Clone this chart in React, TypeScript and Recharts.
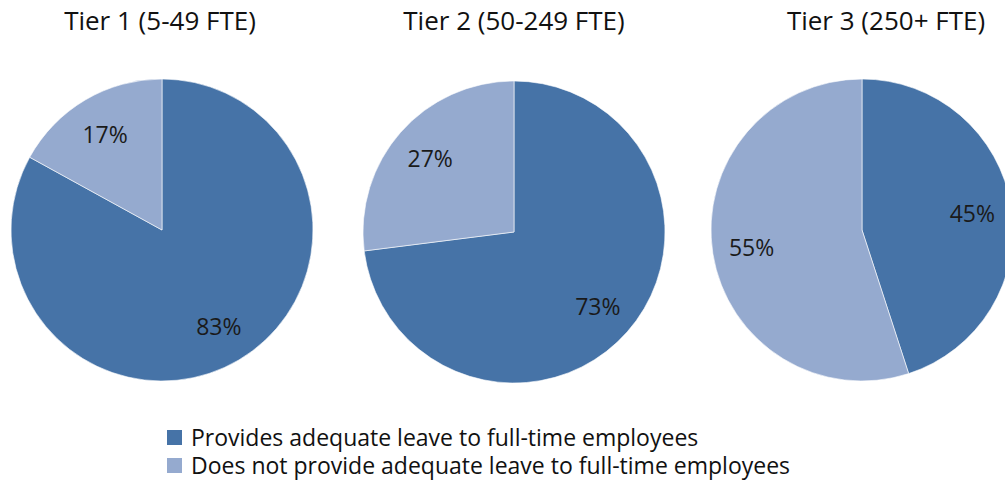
import { PieChart, Pie, Cell } from "recharts";

const tierTitles = ["Tier 1 (5-49 FTE)", "Tier 2 (50-249 FTE)", "Tier 3 (250+ FTE)"];
const seriesNames = [
  "Provides adequate leave to full-time employees",
  "Does not provide adequate leave to full-time employees",
];
const providesPct = [83, 73, 45];
const notProvidesPct = [17, 27, 55];

const COLORS = ["#4673A7", "#95AACF"];
const FONT = "'Open Sans', 'Noto Sans', sans-serif";

// layout for each pie: center + title center
const layout = [
  { cx: 162, cy: 230, titleX: 160 },
  { cx: 514, cy: 232, titleX: 514 },
  { cx: 862, cy: 230, titleX: 886 },
];

const RADIAN = Math.PI / 180;

function renderLabel(props: any) {
  const { cx, cy, midAngle, outerRadius, value } = props;
  const r = outerRadius * 0.74;
  const x = cx + r * Math.cos(-midAngle * RADIAN);
  const y = cy + r * Math.sin(-midAngle * RADIAN);
  return (
    <text
      x={x}
      y={y}
      fill="#1a1a1a"
      textAnchor="middle"
      dominantBaseline="central"
      style={{ fontFamily: FONT, fontSize: 23 }}
    >
      {`${value}%`}
    </text>
  );
}

export default function App() {
  const pies = tierTitles.map((title, i) => ({
    title,
    data: [
      { name: seriesNames[0], value: providesPct[i] },
      { name: seriesNames[1], value: notProvidesPct[i] },
    ],
  }));

  return (
    <div
      style={{
        position: "absolute",
        left: 0,
        top: 0,
        width: 1005,
        height: 483,
        background: "#fff",
        overflow: "hidden",
        fontFamily: FONT,
      }}
    >
      <PieChart width={1005} height={483} margin={{ top: 0, right: 0, bottom: 0, left: 0 }}>
        {pies.map((p, i) => (
          <Pie
            key={p.title}
            data={p.data}
            dataKey="value"
            nameKey="name"
            cx={layout[i].cx}
            cy={layout[i].cy}
            outerRadius={151}
            startAngle={90}
            endAngle={-270}
            stroke="#ffffff"
            strokeWidth={0.6}
            label={renderLabel}
            labelLine={false}
            isAnimationActive={false}
          >
            {p.data.map((d, j) => (
              <Cell key={d.name} fill={COLORS[j]} />
            ))}
          </Pie>
        ))}
      </PieChart>

      {pies.map((p, i) => (
        <div
          key={p.title}
          style={{
            position: "absolute",
            top: 2,
            left: layout[i].titleX - 150,
            width: 300,
            textAlign: "center",
            fontSize: 26,
            color: "#111",
            whiteSpace: "nowrap",
          }}
        >
          {p.title}
        </div>
      ))}

      <div style={{ position: "absolute", left: 167, top: 423 }}>
        {seriesNames.map((name, j) => (
          <div
            key={name}
            style={{
              display: "flex",
              alignItems: "center",
              height: 28,
              lineHeight: "26px",
              fontSize: 23,
              color: "#111",
              whiteSpace: "nowrap",
            }}
          >
            <span
              style={{
                display: "inline-block",
                width: 15,
                height: 15,
                background: COLORS[j],
                marginRight: 9,
              }}
            />
            {name}
          </div>
        ))}
      </div>
    </div>
  );
}
